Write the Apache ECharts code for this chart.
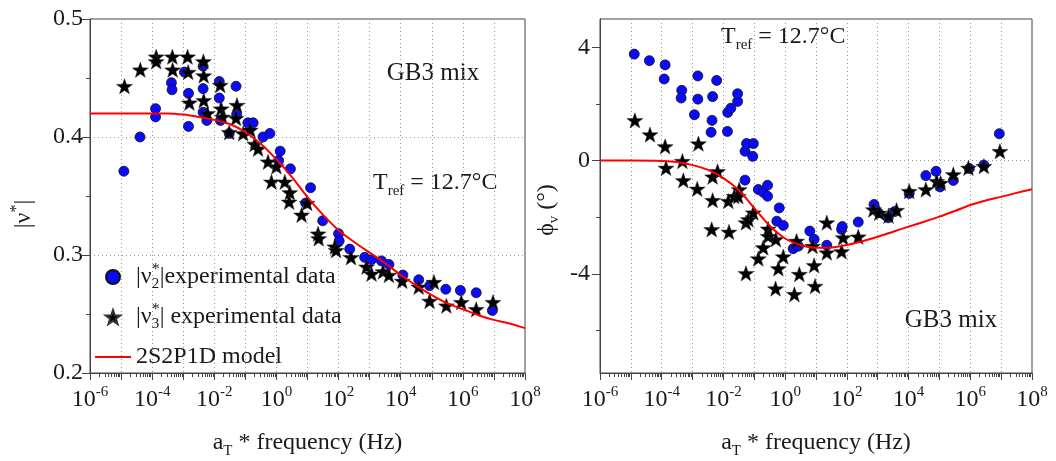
<!DOCTYPE html>
<html><head><meta charset="utf-8">
<script src="https://cdn.jsdelivr.net/npm/echarts@6/dist/echarts.min.js"></script>
<style>html,body{margin:0;padding:0;background:#fff}#c{width:1056px;height:461px}</style>
</head><body><div id="c"></div>
<script>
// ---- data (x values are log10 of aT*frequency in Hz) ----
const xTickExponents = [-6,-5,-4,-3,-2,-1,0,1,2,3,4,5,6,7,8];
const leftYTicks = [0.2, 0.3, 0.4, 0.5];
const rightYTicks = [-4, 0, 4];
const rightYMinorTicks = [-6, -2, 2];

const v2LogF = [-4.91,-4.39,-3.89,-3.89,-3.38,-3.36,-2.96,-2.83,-2.83,-2.36,-2.36,-2.36,-2.24,-1.84,-1.84,-1.80,-1.30,-1.28,-1.52,-0.92,-0.75,-0.43,-0.21,0.07,0.12,0.45,0.94,1.10,1.49,2.00,2.02,2.36,2.84,3.06,3.38,3.62,4.07,4.58,4.93,5.45,5.92,6.43,6.95];
const v2Val  = [0.371,0.400,0.424,0.417,0.446,0.440,0.455,0.437,0.409,0.460,0.441,0.421,0.414,0.447,0.433,0.414,0.443,0.419,0.403,0.412,0.412,0.400,0.403,0.380,0.388,0.373,0.344,0.357,0.329,0.318,0.312,0.305,0.298,0.296,0.295,0.292,0.283,0.279,0.274,0.271,0.270,0.268,0.253];

const v3LogF = [-4.89,-4.38,-3.87,-3.87,-3.35,-3.34,-2.86,-2.84,-2.80,-2.35,-2.34,-2.34,-2.22,-1.81,-1.78,-1.74,-1.27,-1.30,-1.52,-1.07,-0.84,-0.70,-0.59,-0.27,-0.16,0.00,0.27,0.43,0.41,0.81,0.99,1.34,1.36,1.88,1.92,2.40,2.90,3.06,3.43,3.62,4.05,4.58,5.07,4.93,5.47,5.95,6.43,6.97];
const v3Val  = [0.443,0.457,0.468,0.464,0.468,0.457,0.468,0.455,0.429,0.464,0.452,0.431,0.420,0.444,0.424,0.417,0.427,0.416,0.404,0.403,0.406,0.394,0.390,0.379,0.362,0.375,0.362,0.353,0.345,0.334,0.344,0.318,0.314,0.307,0.304,0.298,0.290,0.284,0.286,0.283,0.278,0.273,0.277,0.261,0.257,0.260,0.254,0.260];

const modelLogF = [-6,-5,-4,-3.5,-3,-2.5,-2,-1.5,-1,-0.5,0,0.5,1,1.5,2,2.5,3,3.5,4,4.5,5,5.5,6,6.5,7,7.5,8];
const modelNu   = [0.420,0.420,0.420,0.420,0.419,0.417,0.4145,0.411,0.404,0.394,0.381,0.366,0.349,0.334,0.321,0.311,0.302,0.293,0.283,0.274,0.266,0.259,0.254,0.249,0.245,0.242,0.238];

const p2LogF = [-4.89,-4.40,-3.89,-3.92,-3.35,-3.37,-2.83,-2.83,-2.94,-2.35,-2.37,-2.40,-2.22,-1.86,-1.76,-1.54,-1.54,-1.87,-1.30,-1.25,-1.03,-1.05,-1.30,-0.87,-0.71,-0.57,-0.57,-0.19,-0.27,-0.06,0.26,0.43,0.80,0.94,1.35,1.83,1.85,2.37,2.88,3.02,3.34,3.55,4.02,4.56,4.89,5.02,5.45,5.97,6.44,6.94];
const p2Val  = [3.76,3.53,3.38,2.88,2.48,2.21,2.99,2.17,1.62,2.26,1.42,1.00,2.83,1.70,1.85,2.09,2.36,1.03,0.33,0.60,0.60,0.15,-0.69,-1.02,-1.12,-0.87,-1.26,-1.67,-2.14,-2.29,-3.11,-3.02,-2.49,-2.78,-2.99,-2.43,-2.33,-2.17,-1.55,-1.84,-2.02,-1.80,-1.16,-0.53,-0.38,-0.93,-0.70,-0.28,-0.16,0.95];

const p3LogF = [-4.87,-4.38,-3.89,-3.86,-3.33,-3.30,-2.81,-2.85,-2.35,-2.35,-2.38,-2.19,-1.84,-1.82,-1.65,-1.52,-1.49,-1.27,-1.19,-1.03,-1.27,-0.87,-0.71,-0.55,-0.55,-0.30,-0.22,-0.06,-0.31,0.30,0.37,0.46,0.89,0.94,0.97,1.35,1.35,1.83,1.88,2.37,2.86,3.05,3.35,3.61,4.02,4.56,4.91,5.04,5.45,5.94,6.44,6.96];
const p3Val  = [1.42,0.92,0.50,-0.26,-0.02,-0.70,0.60,-1.00,-0.57,-1.40,-2.43,-0.38,-1.43,-2.52,-1.26,-1.26,-1.02,-2.19,-2.08,-1.84,-3.98,-3.46,-3.07,-2.41,-2.67,-2.78,-3.81,-3.39,-4.52,-4.72,-2.84,-4.01,-3.02,-3.70,-4.43,-2.19,-3.25,-3.21,-2.72,-2.69,-1.73,-1.85,-1.95,-1.75,-1.08,-1.02,-0.73,-0.79,-0.49,-0.26,-0.20,0.33];

const modelPhi  = [0,0,-0.01,-0.05,-0.16,-0.33,-0.62,-1.05,-1.68,-2.30,-2.75,-2.98,-3.08,-3.07,-2.98,-2.85,-2.69,-2.51,-2.33,-2.16,-1.98,-1.78,-1.57,-1.41,-1.28,-1.14,-1.01];

// ---- build ----
const FONT = "'Liberation Serif', 'Times New Roman', serif";
const FS = 24;
const TXT = '#1a1a1a';
const AX = '#444';
const STAR = 'path://M50 0L61.76 33.82L97.55 34.55L69.02 56.18L79.39 90.45L50 70L20.61 90.45L30.98 56.18L2.45 34.55L38.24 33.82Z';
const LINEICON = 'path://M0 0L36 0L36 2L0 2Z';
const pairs = (xs, ys) => xs.map((x, i) => [x, ys[i]]);

const minorX = [];
xTickExponents.slice(0, -1).forEach(e => { for (let m = 2; m <= 9; m++) minorX.push(e + Math.log10(m)); });

const xRich = {
  b: {fontSize: FS, fontFamily: FONT, color: TXT, lineHeight: 30},
  s: {fontSize: 15, fontFamily: FONT, color: TXT, verticalAlign: 'top', lineHeight: 14}
};
const nameRich = {
  d: {fontSize: 15, fontFamily: FONT, color: TXT, verticalAlign: 'bottom', lineHeight: 14}
};

function xMain(g) {
  return {
    type: 'value', gridIndex: g, min: xTickExponents[0], max: xTickExponents[xTickExponents.length - 1], interval: 1,
    axisLine: {onZero: false, lineStyle: {color: AX, width: 1}},
    axisTick: {length: 7, lineStyle: {color: AX}},
    axisLabel: {
      margin: 12, showMinLabel: true, showMaxLabel: true, fontFamily: FONT, fontSize: FS, color: TXT,
      formatter: v => { const e = Math.round(v); return (e % 2 === 0) ? '{b|10}{s|' + e + '}' : ''; },
      rich: xRich
    },
    splitLine: {show: true, showMinLine: false, showMaxLine: false, lineStyle: {color: '#9a9a9a', type: [1, 3]}},
    name: 'a{d|T} * frequency (Hz)', nameLocation: 'middle', nameGap: 54,
    nameTextStyle: {fontSize: FS, fontFamily: FONT, color: TXT, lineHeight: 32, rich: nameRich}
  };
}
function xMinor(g) {
  return {
    type: 'value', gridIndex: g, min: xTickExponents[0], max: xTickExponents[xTickExponents.length - 1], position: 'bottom',
    axisLine: {show: false, onZero: false}, axisLabel: {show: false}, splitLine: {show: false},
    axisTick: {show: true, length: 4, customValues: minorX, lineStyle: {color: AX}}
  };
}

const scatterCircle = {color: '#0a0aff', borderColor: '#111', borderWidth: 0.8, opacity: 1};
const scatterStar = {color: '#000', borderColor: '#333', borderWidth: 0.5, opacity: 1};
const subRich = {d: {fontSize: 15, fontFamily: FONT, fill: TXT, verticalAlign: 'bottom', lineHeight: 14}};

const option = {
  animation: false,
  backgroundColor: '#fff',
  textStyle: {fontFamily: FONT},
  grid: [
    {left: 90, top: 19, width: 435, height: 354, show: true, borderColor: AX, borderWidth: 1, outerBoundsMode: 'none'},
    {left: 600, top: 19, width: 432, height: 354, show: true, borderColor: AX, borderWidth: 1, outerBoundsMode: 'none'}
  ],
  xAxis: [xMain(0), xMinor(0), xMain(1), xMinor(1)],
  yAxis: [
    {
      type: 'value', gridIndex: 0, min: leftYTicks[0], max: leftYTicks[leftYTicks.length - 1], interval: 0.1,
      axisLine: {show: true, onZero: false, lineStyle: {color: AX}},
      axisTick: {length: 8, lineStyle: {color: AX}},
      minorTick: {show: true, splitNumber: 2, length: 4, lineStyle: {color: AX}},
      axisLabel: {margin: 7, fontSize: FS, fontFamily: FONT, color: TXT, showMinLabel: true, showMaxLabel: true,
        formatter: v => v.toFixed(1)},
      splitLine: {show: true, showMinLine: false, showMaxLine: false, lineStyle: {color: '#9a9a9a', type: [1, 3]}}
    },
    {
      type: 'value', gridIndex: 1, min: -7.5, max: 5,
      axisLine: {show: true, onZero: false, lineStyle: {color: AX}},
      axisTick: {length: 8, customValues: rightYTicks, lineStyle: {color: AX}},
      axisLabel: {margin: 10, fontSize: FS, fontFamily: FONT, color: TXT, customValues: rightYTicks},
      splitLine: {show: true, showMinLine: false, showMaxLine: false, lineStyle: {color: '#9a9a9a', type: [1, 3]}}
    },
    {
      type: 'value', gridIndex: 1, min: -7.5, max: 5, position: 'left',
      axisLine: {show: false, onZero: false}, axisLabel: {show: false}, splitLine: {show: false},
      axisTick: {show: true, length: 4, customValues: rightYMinorTicks, lineStyle: {color: AX}}
    }
  ],
  legend: {
    left: 95, top: 262, padding: 0, orient: 'vertical', itemWidth: 36, itemHeight: 14, itemGap: 10,
    selectedMode: false,
    data: [{name: 'v2'}, {name: 'v3'}, {name: 'model', icon: LINEICON}],
    formatter: name => ({
      v2: '|ν{d|2}{u|*}|experimental data',
      v3: '|ν{d|3}{u|*}| experimental data',
      model: '2S2P1D model'
    })[name],
    textStyle: {
      fontSize: FS, fontFamily: FONT, color: TXT, lineHeight: 30,
      rich: {
        d: {fontSize: 15, fontFamily: FONT, color: TXT, verticalAlign: 'bottom', lineHeight: 14, width: 0},
        u: {fontSize: 16, fontFamily: FONT, color: TXT, verticalAlign: 'top', lineHeight: 14}
      }
    }
  },
  series: [
    {name: 'v2', type: 'scatter', xAxisIndex: 0, yAxisIndex: 0, data: pairs(v2LogF, v2Val),
      symbol: 'circle', symbolSize: 10, itemStyle: scatterCircle},
    {name: 'v3', type: 'scatter', xAxisIndex: 0, yAxisIndex: 0, data: pairs(v3LogF, v3Val),
      symbol: STAR, symbolKeepAspect: true, symbolSize: 16, itemStyle: scatterStar},
    {name: 'model', type: 'line', xAxisIndex: 0, yAxisIndex: 0, data: pairs(modelLogF, modelNu),
      symbol: 'none', smooth: 0.3, lineStyle: {color: '#ff0000', width: 2}, itemStyle: {color: '#ff0000'}},
    {name: 'p2', type: 'scatter', xAxisIndex: 2, yAxisIndex: 1, data: pairs(p2LogF, p2Val),
      symbol: 'circle', symbolSize: 10, itemStyle: scatterCircle},
    {name: 'p3', type: 'scatter', xAxisIndex: 2, yAxisIndex: 1, data: pairs(p3LogF, p3Val),
      symbol: STAR, symbolKeepAspect: true, symbolSize: 16, itemStyle: scatterStar},
    {name: 'pmodel', type: 'line', xAxisIndex: 2, yAxisIndex: 1, data: pairs(modelLogF, modelPhi),
      symbol: 'none', smooth: 0.3, lineStyle: {color: '#ff0000', width: 2}, itemStyle: {color: '#ff0000'}}
  ],
  graphic: [
    {type: 'text', x: 433, y: 73, style: {text: 'GB3 mix', fontSize: 25, fontFamily: FONT, fill: TXT, align: 'center', verticalAlign: 'middle'}},
    {type: 'text', x: 373, y: 183, style: {text: 'T{d|ref} = 12.7°C', fontSize: FS, fontFamily: FONT, fill: TXT, lineHeight: 32, align: 'left', verticalAlign: 'middle', rich: subRich}},
    {type: 'text', x: 721, y: 37, style: {text: 'T{d|ref} = 12.7°C', fontSize: FS, fontFamily: FONT, fill: TXT, lineHeight: 32, align: 'left', verticalAlign: 'middle', rich: subRich}},
    {type: 'text', x: 951, y: 320, style: {text: 'GB3 mix', fontSize: 25, fontFamily: FONT, fill: TXT, align: 'center', verticalAlign: 'middle'}},
    {type: 'text', x: 24, y: 214, rotation: Math.PI / 2, style: {text: '|ν{u|*}|', fontSize: FS, fontFamily: FONT, fill: TXT, lineHeight: 30, align: 'center', verticalAlign: 'middle',
      rich: {u: {fontSize: 16, fontFamily: FONT, fill: TXT, verticalAlign: 'top', lineHeight: 14}}}},
    {type: 'text', x: 547, y: 210, rotation: Math.PI / 2, style: {text: 'ϕ{d|v} (°)', fontSize: FS, fontFamily: FONT, fill: TXT, lineHeight: 30, align: 'center', verticalAlign: 'middle', rich: subRich}}
  ]
};
echarts.init(document.getElementById('c'), null, {renderer: 'canvas'}).setOption(option);
</script></body></html>
